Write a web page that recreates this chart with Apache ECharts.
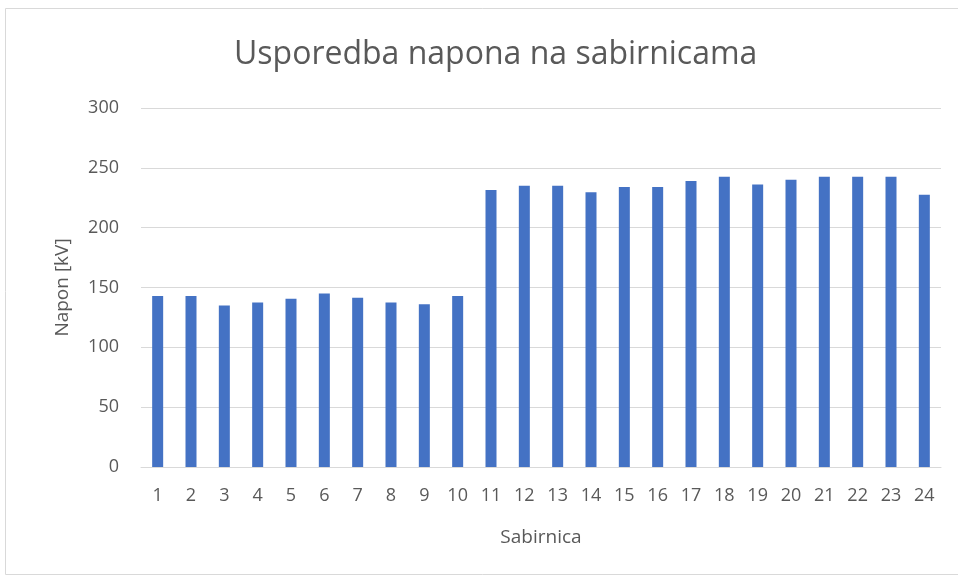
<!DOCTYPE html>
<html>
<head>
<meta charset="utf-8">
<script src="https://cdn.jsdelivr.net/npm/echarts@6/dist/echarts.min.js"></script>
<style>
  html, body { margin: 0; padding: 0; background: #fff; }
  #main { width: 958px; height: 581px; }
</style>
</head>
<body>
<div id="main"></div>
<script>
var categories = ['1','2','3','4','5','6','7','8','9','10','11','12','13','14','15','16','17','18','19','20','21','22','23','24'];
var naponValues = [143, 143, 135, 137.5, 140.5, 145, 141.5, 137.5, 136, 143, 231.5, 235, 235, 229.5, 234, 234, 239, 242.5, 236, 240, 242.5, 242.5, 242.5, 227.5];
var yTicks = { min: 0, max: 300, interval: 50 };

var myChart = echarts.init(document.getElementById('main'));
var fontFam = '"Open Sans", "Noto Sans", sans-serif';

var option = {
    animation: false,
    graphic: [
        {
            type: 'rect',
            shape: { x: 5.5, y: 8.5, width: 960, height: 566 },
            style: { fill: 'none', stroke: '#d9d9d9', lineWidth: 1 },
            silent: true
        }
    ],
    title: {
        text: 'Usporedba napona na sabirnicama',
        left: 229,
        top: 34,
        textStyle: { fontFamily: fontFam, fontSize: 32, fontWeight: 'normal', color: '#595959' }
    },
    grid: { left: 141, right: 17, top: 108, bottom: 114 },
    xAxis: {
        type: 'category',
        data: categories,
        name: 'Sabirnica',
        nameLocation: 'middle',
        nameGap: 61,
        nameTextStyle: { fontFamily: fontFam, fontSize: 19, color: '#595959' },
        axisLine: { lineStyle: { color: '#d9d9d9', width: 1 } },
        axisTick: { show: false },
        axisLabel: { fontFamily: fontFam, fontSize: 18, color: '#595959', margin: 20, interval: 0 }
    },
    yAxis: {
        type: 'value',
        min: yTicks.min,
        max: yTicks.max,
        interval: yTicks.interval,
        name: 'Napon [kV]',
        nameLocation: 'middle',
        nameGap: 69,
        nameTextStyle: { fontFamily: fontFam, fontSize: 19, color: '#595959' },
        axisLine: { show: false },
        axisTick: { show: false },
        splitLine: { lineStyle: { color: '#d9d9d9', width: 1 } },
        axisLabel: { fontFamily: fontFam, fontSize: 18, color: '#595959', margin: 22 }
    },
    series: [
        {
            name: 'Napon',
            type: 'bar',
            data: naponValues,
            barWidth: 11,
            itemStyle: { color: '#4472c4' }
        }
    ]
};

myChart.setOption(option);
</script>
</body>
</html>
